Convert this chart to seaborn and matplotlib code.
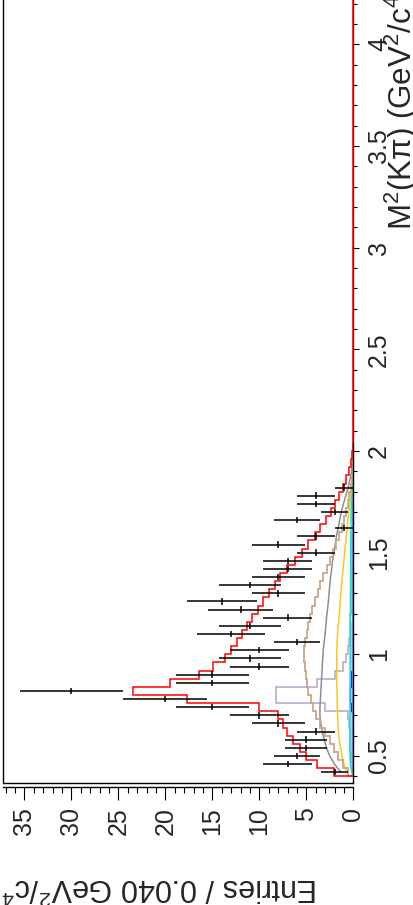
import numpy as np
import matplotlib
matplotlib.use("Agg")
import matplotlib.pyplot as plt
from matplotlib.ticker import MultipleLocator
import seaborn as sns

# ---------------- data ----------------
bin_width = 0.04
edges = np.round(0.40 + bin_width * np.arange(42), 2)          # 0.40 ... 2.04
centers = np.round(edges[:-1] + bin_width / 2, 2)              # 0.42 ... 2.02

data_centers = centers[:36]                                    # 0.42 ... 1.82
data_counts = [2, 7, 6, 5, 5, 4, 8, 10, 15, 20, 30, 15, 15, 10, 11, 10, 6, 13,
               11, 7, 12, 14, 8, 11, 8, 7, 7, 4, 8, 4, 1, 6, 2, 4, 4, 1]

total_fit = [2.1, 3.9, 5.0, 5.7, 6.4, 7.1, 7.45, 8.0, 10.0, 17.7, 23.4, 19.5,
             16.4, 14.9, 13.6, 13.0, 12.4, 11.8, 11.3, 10.8, 10.1, 9.6, 9.0,
             8.35, 7.8, 7.1, 6.2, 5.5, 4.8, 4.1, 3.5, 2.9, 2.4, 1.95, 1.55,
             1.13, 0.8, 0.5, 0.28, 0.1, 0.03]
tan_comp = [0.55, 1.1, 1.6, 2.1, 2.5, 3.0, 3.5, 3.95, 4.25, 4.5, 4.8, 4.95,
            5.05, 5.15, 5.2, 5.2, 5.1, 4.95, 4.8, 4.6, 4.35, 4.1, 3.8, 3.55,
            3.2, 2.85, 2.5, 2.15, 1.85, 1.5, 1.25, 0.95, 0.78, 0.55, 0.42,
            0.28, 0.17, 0.08, 0.03, 0.01, 0.0]
lav_comp = [0.15, 0.2, 0.25, 0.3, 0.35, 0.4, 0.5, 0.6, 3.0, 8.2, 8.2, 3.9,
            2.0, 1.1, 0.8, 0.55, 0.45, 0.4, 0.35, 0.3, 0.28, 0.25, 0.22, 0.2,
            0.18, 0.16, 0.14, 0.12, 0.1, 0.09, 0.08, 0.07, 0.06, 0.05, 0.04,
            0.03, 0.02, 0.01, 0.0, 0.0, 0.0]
blue_comp = [0.05, 0.08, 0.1, 0.1, 0.12, 0.12, 0.14, 0.16, 0.22, 0.3, 0.3,
             0.25, 0.22, 0.15, 0.12, 0.1, 0.1, 0.09, 0.09, 0.08, 0.08, 0.07,
             0.07, 0.06, 0.06, 0.05, 0.05, 0.05, 0.04, 0.04, 0.03, 0.03, 0.03,
             0.02, 0.02, 0.01, 0.01, 0.0, 0.0, 0.0, 0.0]
gray_comp = [1.3, 2.0, 2.5, 2.85, 3.1, 3.3, 3.45, 3.55, 3.55, 3.5, 3.45, 3.4,
             3.35, 3.3, 3.25, 3.2, 3.1, 3.0, 2.92, 2.85, 2.75, 2.65, 2.58,
             2.5, 2.42, 2.3, 2.2, 2.05, 1.92, 1.8, 1.62, 1.45, 1.28, 1.05,
             0.8, 0.55, 0.35, 0.18, 0.1, 0.05, 0.0]
orange_comp = [0.7, 1.0, 1.2, 1.35, 1.5, 1.58, 1.63, 1.67, 1.7, 1.72, 1.74,
               1.75, 1.76, 1.76, 1.76, 1.75, 1.72, 1.67, 1.6, 1.52, 1.45,
               1.38, 1.32, 1.25, 1.17, 1.08, 1.0, 0.92, 0.83, 0.74, 0.65,
               0.56, 0.47, 0.38, 0.3, 0.22, 0.15, 0.09, 0.05, 0.02, 0.0]
cyan_comp = [0.15, 0.3, 0.35, 0.35, 0.35, 0.35, 0.35, 0.35, 0.35, 0.35, 0.35,
             0.35, 0.34, 0.34, 0.33, 0.33, 0.32, 0.32, 0.31, 0.31, 0.3, 0.3,
             0.3, 0.29, 0.29, 0.28, 0.28, 0.27, 0.27, 0.26, 0.25, 0.24, 0.23,
             0.21, 0.19, 0.16, 0.12, 0.08, 0.05, 0.02, 0.0]
steel_comp = [0.03, 0.05, 0.06, 0.06, 0.06, 0.06, 0.06, 0.06, 0.06, 0.06,
              0.06, 0.06, 0.06, 0.06, 0.06, 0.06, 0.06, 0.06, 0.06, 0.06,
              0.06, 0.06, 0.06, 0.05, 0.05, 0.05, 0.05, 0.05, 0.05, 0.04,
              0.04, 0.04, 0.04, 0.03, 0.03, 0.03, 0.02, 0.02, 0.01, 0.01, 0.0]

# zero-content bins of the total fit beyond the phase space
tail_edges = np.round(2.04 + bin_width * np.arange(65), 2)

x_label = "Entries / 0.040 GeV$^{2}$/c$^{4}$"
y_label = "M$^{2}$(Kπ) (GeV$^{2}$/c$^{4}$)"

# ---------------- style ----------------
sns.set_style("ticks")
plt.rcParams["font.family"] = ["Liberation Sans", "DejaVu Sans"]
plt.rcParams["mathtext.fontset"] = "custom"
plt.rcParams["mathtext.rm"] = "Liberation Sans"
plt.rcParams["mathtext.it"] = "Liberation Sans:italic"
plt.rcParams["mathtext.default"] = "rm"

fig = plt.figure(figsize=(4.14, 9.05), dpi=100)
ax = fig.add_axes([3 / 414, 121.7 / 905, 350.3 / 414, 783.3 / 905])
ax.set_facecolor("white")

# components
ax.stairs(blue_comp, edges, orientation="horizontal", color="#0000FF", lw=1.0, zorder=1.9)
ax.stairs(lav_comp, edges, orientation="horizontal", color="#A9A9CC", lw=1.1, zorder=2)
sns.lineplot(x=steel_comp, y=centers, orient="y", color="#8C9BD2", lw=1.4, ax=ax, zorder=2.05)
sns.lineplot(x=cyan_comp, y=centers, orient="y", color="#00E5E5", lw=1.1, ax=ax, zorder=2.2)
sns.lineplot(x=orange_comp, y=centers, orient="y", color="#FFC41F", lw=1.1, ax=ax, zorder=2.3)
sns.lineplot(x=gray_comp, y=centers, orient="y", color="#8E8E8E", lw=1.1, ax=ax, zorder=2.4)
ax.stairs(tan_comp, edges, orientation="horizontal", color="#C8A888", lw=1.3, zorder=2.5)

# total fit
ax.stairs(total_fit, edges, orientation="horizontal", color="#FF0000", lw=1.1, zorder=4)
ax.stairs(np.zeros(len(tail_edges) - 1), tail_edges, orientation="horizontal",
          color="#FF0000", lw=1.1, zorder=4, clip_on=False)

# data
ax.errorbar(data_counts, data_centers, xerr=np.sqrt(data_counts),
            yerr=0.4 * bin_width, fmt="none", ecolor="black", elinewidth=1.1,
            capsize=0, zorder=5)

# ---------------- axes ----------------
ax.set_xlim(37.27, 0)
ax.set_ylim(0.3656, 4.218)

ax.spines["top"].set_visible(False)
for s in ["left", "right", "bottom"]:
    ax.spines[s].set_linewidth(1.0)
    ax.spines[s].set_color("black")
ax.spines["bottom"].set_position(("outward", 3))
ax.axhline(ax.get_ylim()[0], color="black", lw=1.0, zorder=6, clip_on=False)

ax.xaxis.set_major_locator(MultipleLocator(5))
ax.xaxis.set_minor_locator(MultipleLocator(1))
ax.yaxis.set_major_locator(MultipleLocator(0.5))
ax.yaxis.set_minor_locator(MultipleLocator(0.1))
ax.yaxis.set_major_formatter(matplotlib.ticker.FuncFormatter(lambda v, p: f"{v:g}"))

ax.yaxis.tick_right()
ax.tick_params(axis="x", which="major", direction="out", length=9.4, width=0.8,
               labelsize=18, pad=4.5, labelrotation=90, color="black")
ax.tick_params(axis="x", which="minor", direction="out", length=4.3, width=0.8, color="black")
ax.tick_params(axis="y", which="major", direction="out", length=4.3, width=0.8,
               labelsize=18, pad=5.5, labelrotation=90, right=True, left=False,
               labelright=True, labelleft=False, color="black")
ax.tick_params(axis="y", which="minor", direction="out", length=3.0, width=0.8,
               right=True, left=False, color="black")
plt.setp(ax.get_yticklabels(), va="center", ha="left", rotation_mode="default")

ax.set_xlabel(x_label, fontsize=22, rotation=180)
ax.xaxis.label.set(rotation_mode="default", ha="right", va="center")
ax.xaxis.set_label_coords((318 - 3) / 350.3, (783.3 - 887) / 783.3)

ax.yaxis.set_label_position("right")
ax.set_ylabel(y_label, fontsize=22.5, rotation=90)
ax.yaxis.label.set(rotation_mode="default", ha="center", va="bottom")
ax.yaxis.set_label_coords((402 - 3) / 350.3, (783.3 - 230) / 783.3)

fig.savefig("out.png", dpi=100, facecolor="white")
